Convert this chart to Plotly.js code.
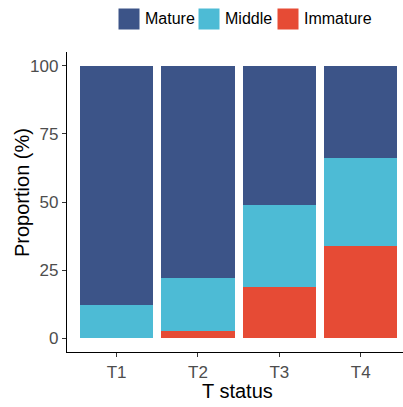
<!DOCTYPE html>
<html><head><meta charset="utf-8">
<script src="https://cdn.plot.ly/plotly-3.0.1.min.js"></script>
<style>html,body{margin:0;padding:0;background:#fff}#c{width:403px;height:407px}</style>
</head><body><div id="c"></div>
<script>
const categories = ["T1","T2","T3","T4"];
const immature = [0, 2.7, 19, 33.7];
const middle = [12.1, 19.6, 30, 32.3];
const mature = [87.9, 77.7, 51, 34];
const seriesNames = ["Mature","Middle","Immature"];
const colors = {Mature:"#3C5488", Middle:"#4DBBD5", Immature:"#E64B35"};
const yTicks = [0,25,50,75,100];
const xTitle = "T status", yTitle = "Proportion (%)";

const W=403,H=407,L=67,R=0,T=52,B=55;
const px = v => (v-L)/(W-L-R);
const py = v => (H-B-v)/(H-T-B);

const x = [0,1,2,3];
function tr(name, vals){
  return {type:"bar", name:name, x:x, y:vals, width:0.9, showlegend:false,
    marker:{color:colors[name], line:{width:0}}, hoverinfo:"y"};
}
const data = [tr("Immature",immature), tr("Middle",middle), tr("Mature",mature)];

// manual legend
const legX = [118, 198, 277];
const shapes = [], annotations = [];
seriesNames.forEach((n,i)=>{
  shapes.push({type:"rect", xref:"paper", yref:"paper", x0:px(legX[i]), x1:px(legX[i]+22),
    y0:py(30), y1:py(8), fillcolor:colors[n], line:{width:1,color:"#fff"}});
  annotations.push({xref:"paper", yref:"paper", x:px(legX[i]+25), y:py(19), xanchor:"left", yanchor:"middle",
    text:n, showarrow:false, font:{size:16,color:"#000"}});
});
annotations.push({xref:"paper", yref:"paper", x:px(22), y:py(193), xanchor:"center", yanchor:"middle",
  textangle:-90, text:yTitle, showarrow:false, font:{size:20,color:"#000"}});
annotations.push({xref:"paper", yref:"paper", x:px(237), y:py(391), xanchor:"center", yanchor:"middle",
  text:xTitle, showarrow:false, font:{size:20,color:"#000"}});

const layout = {
  width:W, height:H, barmode:"stack",
  margin:{l:L,r:R,t:T,b:B,autoexpand:false},
  paper_bgcolor:"#fff", plot_bgcolor:"#fff",
  font:{family:"Liberation Sans, Arial, sans-serif", color:"#4D4D4D", size:17},
  showlegend:false, shapes:shapes, annotations:annotations,
  xaxis:{range:[-0.61,3.52], tickvals:x, ticktext:categories, showgrid:false, zeroline:false,
    showline:true, linecolor:"#000", linewidth:1.2, ticks:"outside", ticklen:4, tickcolor:"#333",
    tickfont:{size:17,color:"#4D4D4D"}},
  yaxis:{range:[-5,105], tickvals:yTicks, showgrid:false, zeroline:false,
    showline:true, linecolor:"#000", linewidth:1.2, ticks:"outside", ticklen:4, tickcolor:"#333",
    tickfont:{size:17,color:"#4D4D4D"}}
};
Plotly.newPlot("c", data, layout, {displayModeBar:false, staticPlot:true});
</script></body></html>
